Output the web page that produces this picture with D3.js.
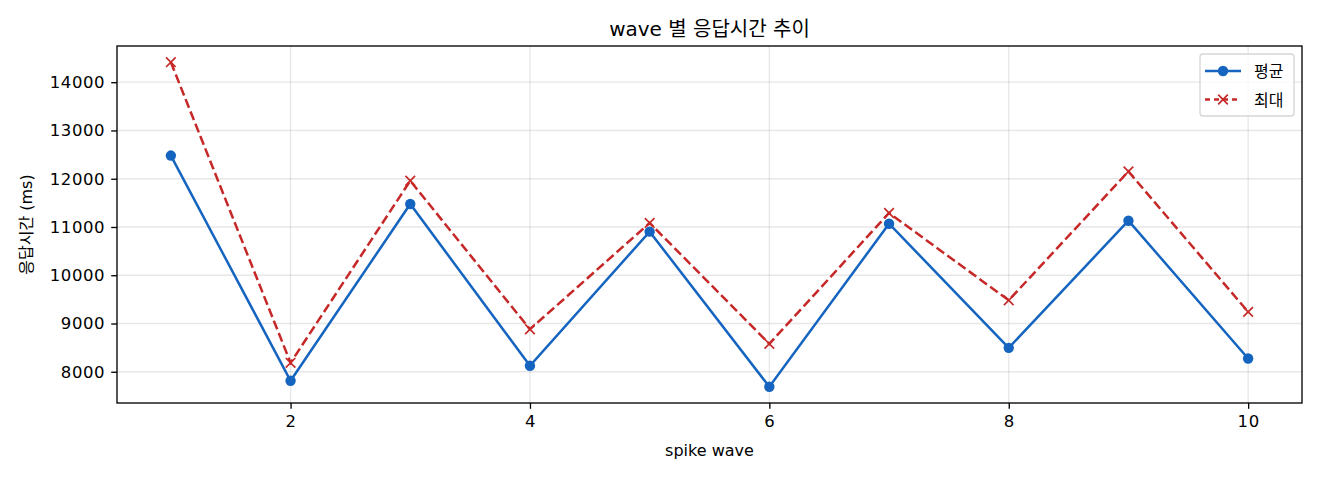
<!DOCTYPE html>
<html>
<head>
<meta charset="utf-8">
<style>
    body { margin: 0; background: #fff; }
    svg { font-family: 'DejaVu Sans', 'Noto Sans CJK KR', sans-serif; }
    .axis .domain { display: none; }
    .axis .tick line { stroke: #000; stroke-width: 1.33px; }
    .axis .tick text { font-size: 16.5px; fill: #000; font-family: 'DejaVu Sans', sans-serif; letter-spacing: 0.6px; }
    .grid line { stroke: #b0b0b0; stroke-opacity: 0.3; stroke-width: 1.33px; }
</style>
</head>
<body>
<svg width="1320" height="480"></svg>
<script src="https://d3js.org/d3.v7.min.js"></script>
<script>
    // data
    let waves = [1, 2, 3, 4, 5, 6, 7, 8, 9, 10];
    let avgTime = [12480, 7813, 11476, 8124, 10903, 7689, 11068, 8496, 11130, 8275];
    let maxTime = [14414, 8186, 11958, 8881, 11083, 8579, 11290, 9481, 12150, 9241];
    let xTicks = [2, 4, 6, 8, 10];
    let yTicks = [8000, 9000, 10000, 11000, 12000, 13000, 14000];

    let margin = { top: 46, right: 18, bottom: 77, left: 117 };
    let width = 1320, height = 480;

    let svg = d3.select("svg");

    // matplotlib style 5% padding on both axes
    let allVals = avgTime.concat(maxTime);
    let xPad = (d3.max(waves) - d3.min(waves)) * 0.05;
    let yPad = (d3.max(allVals) - d3.min(allVals)) * 0.05;

    let x = d3.scaleLinear()
        .domain([d3.min(waves) - xPad, d3.max(waves) + xPad])
        .range([margin.left, width - margin.right]);

    let y = d3.scaleLinear()
        .domain([d3.min(allVals) - yPad, d3.max(allVals) + yPad])
        .range([height - margin.bottom, margin.top]);

    // grid
    svg.append("g").attr("class", "grid")
        .selectAll("line").data(xTicks).join("line")
        .attr("x1", d => x(d)).attr("x2", d => x(d))
        .attr("y1", margin.top).attr("y2", height - margin.bottom);
    svg.append("g").attr("class", "grid")
        .selectAll("line").data(yTicks).join("line")
        .attr("x1", margin.left).attr("x2", width - margin.right)
        .attr("y1", d => y(d)).attr("y2", d => y(d));

    // axes
    svg.append("g")
        .attr("class", "x axis")
        .attr("transform", `translate(0,${height - margin.bottom})`)
        .call(d3.axisBottom(x).tickValues(xTicks).tickSize(5.8).tickPadding(6.5).tickFormat(d3.format("d")));

    svg.append("g")
        .attr("class", "y axis")
        .attr("transform", `translate(${margin.left},0)`)
        .call(d3.axisLeft(y).tickValues(yTicks).tickSize(5.8).tickPadding(6).tickFormat(d3.format("d")));

    // frame
    svg.append("rect")
        .attr("x", margin.left).attr("y", margin.top)
        .attr("width", width - margin.left - margin.right)
        .attr("height", height - margin.top - margin.bottom)
        .style("fill", "none").style("stroke", "#000").style("stroke-width", "1.33px");

    let blue = "#1565c0", red = "#c62828";

    let line = d3.line()
        .x((d, i) => x(waves[i]))
        .y(d => y(d));

    svg.append("path")
        .attr("d", line(maxTime))
        .style("fill", "none").style("stroke", red)
        .style("stroke-width", "2.5px").style("stroke-dasharray", "9.25,4");

    svg.append("path")
        .attr("d", line(avgTime))
        .style("fill", "none").style("stroke", blue)
        .style("stroke-width", "2.5px");

    svg.append("g").selectAll("circle").data(avgTime).join("circle")
        .attr("cx", (d, i) => x(waves[i])).attr("cy", d => y(d))
        .attr("r", 5.2).style("fill", blue);

    let cross = "M-4.8,-4.8L4.8,4.8M-4.8,4.8L4.8,-4.8";
    svg.append("g").selectAll("path").data(maxTime).join("path")
        .attr("transform", (d, i) => `translate(${x(waves[i])},${y(d)})`)
        .attr("d", cross)
        .style("stroke", red).style("stroke-width", "1.67px").style("fill", "none");

    // titles
    svg.append("text")
        .attr("x", (margin.left + width - margin.right) / 2).attr("y", 36)
        .attr("text-anchor", "middle").style("font-size", "20px")
        .text("wave 별 응답시간 추이");

    svg.append("text")
        .attr("x", (margin.left + width - margin.right) / 2).attr("y", 456)
        .attr("text-anchor", "middle").style("font-size", "16px")
        .text("spike wave");

    svg.append("text")
        .attr("transform", `translate(32,${(margin.top + height - margin.bottom) / 2}) rotate(-90)`)
        .attr("text-anchor", "middle").style("font-size", "16px")
        .text("응답시간 (ms)");

    // legend
    let legend = svg.append("g");
    legend.append("rect")
        .attr("x", 1200).attr("y", 54).attr("width", 94).attr("height", 62)
        .attr("rx", 3)
        .style("fill", "#fff").style("fill-opacity", 0.8)
        .style("stroke", "#d6d6d6").style("stroke-width", "1.33px");

    let legendItems = [
        { name: "평균", color: blue, dash: null, marker: "o" },
        { name: "최대", color: red, dash: "5,4", marker: "x" }
    ];
    legendItems.forEach(function (item, i) {
        let cy = 71 + i * 28.5;
        legend.append("line")
            .attr("x1", 1205).attr("x2", 1241).attr("y1", cy).attr("y2", cy)
            .style("stroke", item.color).style("stroke-width", "2.5px")
            .style("stroke-dasharray", item.dash);
        if (item.marker == "o") {
            legend.append("circle").attr("cx", 1223).attr("cy", cy).attr("r", 5.2).style("fill", item.color);
        } else {
            legend.append("path").attr("transform", `translate(1223,${cy})`).attr("d", cross)
                .style("stroke", item.color).style("stroke-width", "1.67px");
        }
        legend.append("text")
            .attr("x", 1254).attr("y", cy + 6)
            .style("font-size", "16px")
            .text(item.name);
    });
</script>
</body>
</html>
